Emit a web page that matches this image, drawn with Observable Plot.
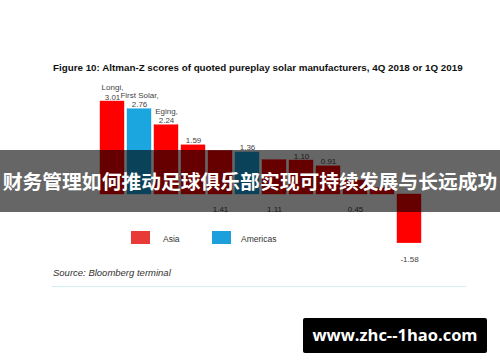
<!DOCTYPE html>
<html>
<head>
<meta charset="utf-8">
<script src="https://cdn.jsdelivr.net/npm/d3@7"></script>
<script src="https://cdn.jsdelivr.net/npm/@observablehq/plot@0.6"></script>
<style>
  html, body { margin: 0; padding: 0; background: #fff; }
  #wrap { position: relative; width: 500px; height: 362px; overflow: hidden; font-family: "Liberation Sans", Arial, sans-serif; }
  #chart { position: absolute; left: 0; top: 0; }
  .abs { position: absolute; white-space: nowrap; line-height: 1; }
  #title { left: 53px; top: 63px; font-size: 9.8px; font-weight: bold; color: #111; }
  #legend .sw { position: absolute; width: 19px; height: 13px; top: 231px; }
  #legend .lb { position: absolute; top: 234.5px; font-size: 8.5px; color: #333; line-height: 1; }
  #source { left: 53px; top: 268px; font-size: 9.5px; font-style: italic; color: #333; }
  #rule { left: 52px; top: 286px; width: 414px; height: 1px; background: #d3eef6; }
  #banner { left: 0; top: 150px; width: 500px; height: 62px; background: rgba(0,0,0,0.6); z-index: 5; }
  #bannertext { left: 0; top: 150px; width: 500px; height: 62px; z-index: 6; display: flex; align-items: center; justify-content: center;
    font-family: "Noto Sans CJK SC", sans-serif; font-weight: bold; font-size: 19.8px; color: #fff; letter-spacing: 0; }
  #wm { left: 303px; top: 318px; width: 184px; height: 35px; background: #000; border-radius: 2px; z-index: 7;
    display: flex; align-items: center; justify-content: center; color: #fff; font-family: "Open Sans", sans-serif; font-weight: bold; font-size: 16.5px; }
</style>
</head>
<body>
<div id="wrap">
  <div id="chart"></div>
  <div id="title" class="abs"></div>
  <div id="legend"></div>
  <div id="source" class="abs"></div>
  <div id="rule" class="abs"></div>
  <div id="banner" class="abs"></div>
  <div id="bannertext" class="abs"></div>
  <div id="wm" class="abs"></div>
</div>
<script>
// ---- data ----
const titleText = "Figure 10: Altman-Z scores of quoted pureplay solar manufacturers, 4Q 2018 or 1Q 2019";
const sourceText = "Source: Bloomberg terminal";
const bannerText = "财务管理如何推动足球俱乐部实现可持续发展与长远成功";
const watermarkText = "www.zhc--1hao.com";

const companyIds = ["c1","c2","c3","c4","c5","c6","c7","c8","c9","c10","c11","c12"];
const companyNames = ["Longi","First Solar","Eging","","","","","","","","",""];
const scores = [3.01, 2.76, 2.24, 1.59, 1.41, 1.36, 1.11, 1.10, 0.91, 0.45, 0.20, -1.58];
const regions = ["Asia","Americas","Asia","Asia","Asia","Americas","Asia","Asia","Asia","Asia","Asia","Asia"];
// where each value label sits; "hidden" = covered in the reference
const labelPlacement = ["above","above","above","above","axis","above","axis","above","above","axis","hidden","end"];
const regionNames = ["Asia","Americas"];
const regionColors = ["#ff0000","#1ba6e0"];
const legendColors = ["#e83a36","#1ba0dc"];

const data = companyIds.map((id, i) => ({
  id, name: companyNames[i], value: scores[i], region: regions[i], place: labelPlacement[i]
}));
const fmt = v => v.toFixed(2);

const chart = Plot.plot({
  width: 500,
  height: 362,
  margin: 0,
  style: { fontFamily: "Liberation Sans, Arial, sans-serif", background: "transparent", overflow: "visible" },
  x: { domain: companyIds, range: [92.2, 428.6], padding: 0.1, axis: null },
  y: { domain: [-1.58, 3.01], range: [242.8, 101], axis: null },
  color: { domain: regionNames, range: regionColors },
  marks: [
    Plot.barY(data, { x: "id", y: "value", fill: "region", stroke: "region", strokeWidth: 0.4 }),
    Plot.text(data.filter(d => d.place === "above"), {
      x: "id", y: "value",
      text: d => d.name ? d.name + ",\n" + fmt(d.value) : fmt(d.value),
      dy: -2, lineAnchor: "bottom", fontSize: 8, fill: "#444", lineHeight: 1.2
    }),
    Plot.text(data.filter(d => d.place === "axis"), {
      x: "id", y: () => 0, text: d => fmt(d.value), dy: 15, fontSize: 8, fill: "#444"
    }),
    Plot.text(data.filter(d => d.place === "end"), {
      x: "id", y: "value", text: d => fmt(d.value), dy: 16, fontSize: 8, fill: "#444"
    })
  ]
});
document.getElementById("chart").appendChild(chart);

document.getElementById("title").textContent = titleText;
document.getElementById("source").textContent = sourceText;
document.getElementById("bannertext").textContent = bannerText;
document.getElementById("wm").textContent = watermarkText;

// legend
const legend = document.getElementById("legend");
const swLeft = [131, 212], lbLeft = [163, 241];
regionNames.forEach((r, i) => {
  const sw = document.createElement("div");
  sw.className = "sw"; sw.style.left = swLeft[i] + "px"; sw.style.background = legendColors[i];
  const lb = document.createElement("div");
  lb.className = "lb"; lb.style.left = lbLeft[i] + "px"; lb.textContent = r;
  legend.appendChild(sw); legend.appendChild(lb);
});
</script>
</body>
</html>
